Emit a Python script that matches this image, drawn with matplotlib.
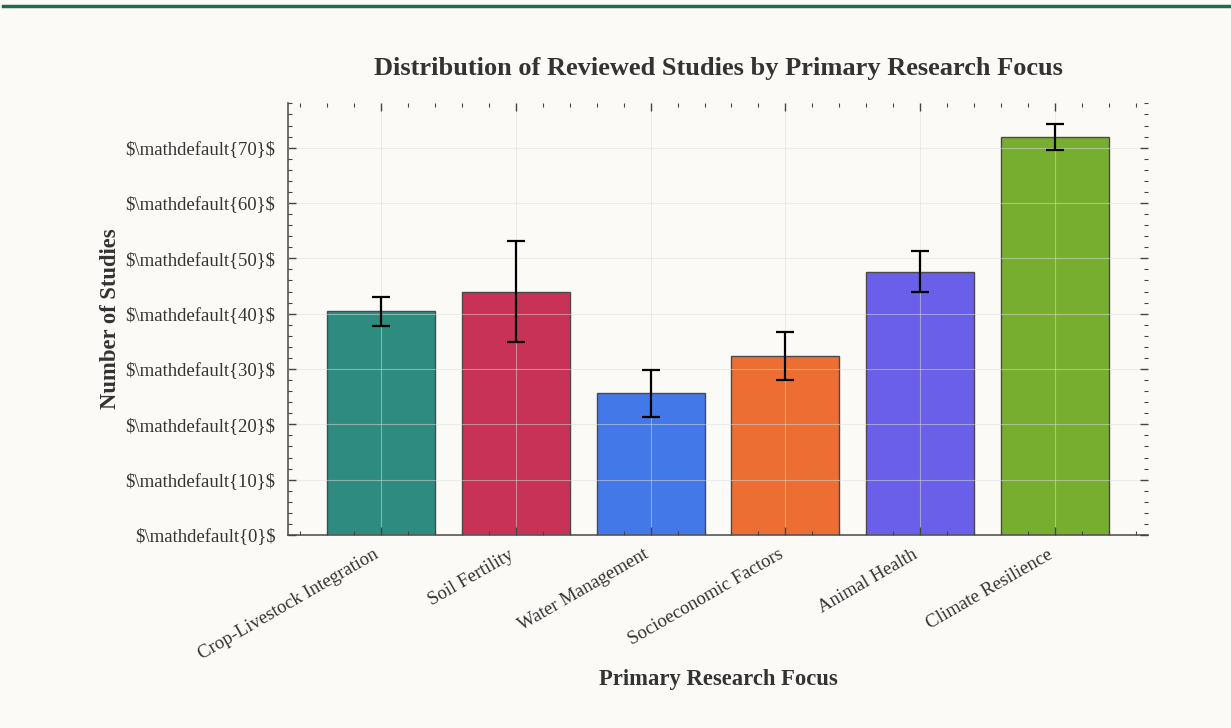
import matplotlib
matplotlib.use("Agg")
import matplotlib.pyplot as plt
from matplotlib.ticker import AutoMinorLocator
from matplotlib.lines import Line2D
from matplotlib.transforms import ScaledTranslation

categories = ["Crop-Livestock Integration", "Soil Fertility", "Water Management",
              "Socioeconomic Factors", "Animal Health", "Climate Resilience"]
values = [40.4, 44.0, 25.6, 32.3, 47.6, 72.0]
errors = [2.6, 9.2, 4.2, 4.3, 3.7, 2.35]
colors = ["#2e8b80", "#c73256", "#4378e8", "#ec6e32", "#6a5fe8", "#78ae30"]
ytick_values = [0, 10, 20, 30, 40, 50, 60, 70]
ytick_labels = [r"\$\mathdefault{%d}\$" % v for v in ytick_values]

plt.rcParams["font.family"] = ["Liberation Serif", "DejaVu Serif"]

bg = "#fbfaf7"
fig = plt.figure(figsize=(12.31, 7.28), dpi=100, facecolor=bg)
ax = fig.add_axes([288/1231, 1-535/728, (1148-288)/1231, (535-103)/728])
ax.set_facecolor(bg)

x = list(range(len(categories)))
ax.bar(x, values, width=0.8, color=colors, edgecolor="#4a4a4a", linewidth=1.0,
       zorder=2)
ax.errorbar(x, values, yerr=errors, fmt="none", ecolor="black", elinewidth=1.6,
            capsize=6.5, capthick=1.6, zorder=3)

ax.set_yticks(ytick_values, ytick_labels)
ax.set_xticks(x, categories, rotation=30, ha="right", rotation_mode="anchor")
ax.xaxis.set_minor_locator(AutoMinorLocator(5))
ax.yaxis.set_minor_locator(AutoMinorLocator(5))
ax.tick_params(which="both", direction="in", top=True, right=True,
               colors="#444444", labelcolor="#333333", labelsize=13.5)
ax.tick_params(which="major", length=6, width=1.0)
ax.tick_params(which="minor", length=3, width=0.8)
ax.tick_params(axis="x", pad=8)
ax.tick_params(axis="y", pad=9)
shift = ScaledTranslation(-8/100, 0, fig.dpi_scale_trans)
for lab in ax.get_xticklabels():
    lab.set_transform(lab.get_transform() + shift)

for s in ["top", "right"]:
    ax.spines[s].set_visible(False)
for s in ["left", "bottom"]:
    ax.spines[s].set_color("#555555")
    ax.spines[s].set_linewidth(1.2)

ax.grid(True, which="major", color="#dddddd", linewidth=0.8, alpha=0.5, zorder=2.5)
ax.set_axisbelow(False)

ax.set_ylabel("Number of Studies", fontsize=16.3, fontweight="bold", color="#333333", labelpad=3)
ax.set_xlabel("Primary Research Focus", fontsize=16.3, fontweight="bold", color="#333333", labelpad=4)
ax.set_title("Distribution of Reviewed Studies by Primary Research Focus",
             fontsize=19, fontweight="bold", color="#333333", pad=20)

fig.add_artist(Line2D([0.0025, 1], [1-5.5/728, 1-5.5/728], color="#1f6b52",
                      linewidth=2.5, transform=fig.transFigure))

fig.savefig("out.png", dpi=100, facecolor=bg)
